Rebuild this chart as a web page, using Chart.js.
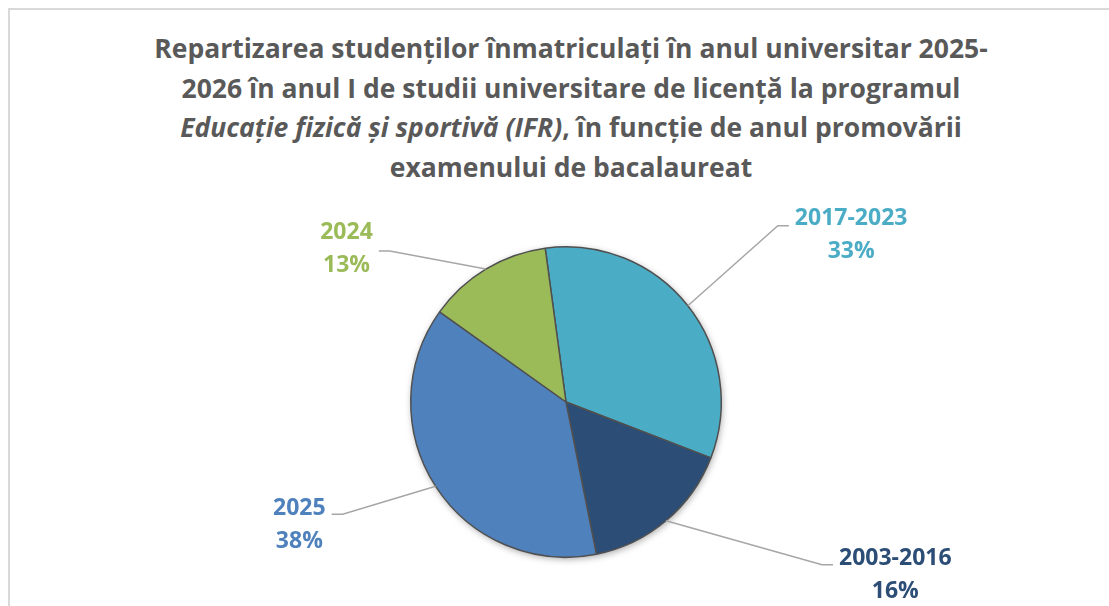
<!DOCTYPE html>
<html>
<head>
<meta charset="utf-8">
<script src="https://cdn.jsdelivr.net/npm/chart.js@4"></script>
<style>
  html, body { margin: 0; padding: 0; background: #fff; }
  #wrap { position: relative; width: 1109px; height: 606px; overflow: hidden; }
  #frame { position: absolute; left: 8px; top: 8px; width: 1200px; height: 700px; border: 2px solid #d9d9d9; box-sizing: border-box; }
  #title {
    position: absolute; left: 0; top: 29px; width: 1142px; text-align: center;
    font-family: "Open Sans", sans-serif; font-weight: bold; font-size: 26.5px; line-height: 39.5px; color: #595959;
  }
  #title i { font-style: italic; }
  canvas { position: absolute; left: 0; top: 0; }
</style>
</head>
<body>
<div id="wrap">
  <div id="frame"></div>
  <div id="title">Repartizarea studenților înmatriculați în anul universitar 2025-<br>2026 în anul I de studii universitare de licență la programul<br><i>Educație fizică și sportivă (IFR)</i>, în funcție de anul promovării<br>examenului de bacalaureat</div>
  <canvas id="pieChart" width="1109" height="606"></canvas>
</div>
<script>
  // data
  var categories = ["2017-2023", "2003-2016", "2025", "2024"];
  var percents = [33, 16, 38, 13];
  var sliceColors = ["#4BACC6", "#2C4D75", "#4F81BD", "#9BBB59"];

  // where the leader line bends, relative to the slice edge point
  var leaderBends = [[90, -80], [156, 44], [-93, 28], [-96, -18]];

  // soft shadow under the pie
  var pieShadow = {
    id: "pieShadow",
    beforeDatasetsDraw: function (chart) {
      var arc = chart.getDatasetMeta(0).data[0];
      var ctx = chart.ctx;
      ctx.save();
      ctx.shadowColor = "rgba(0,0,0,0.35)";
      ctx.shadowBlur = 7;
      ctx.shadowOffsetX = 1;
      ctx.shadowOffsetY = 2;
      ctx.fillStyle = "#fff";
      ctx.beginPath();
      ctx.arc(arc.x, arc.y, arc.outerRadius, 0, Math.PI * 2);
      ctx.fill();
      ctx.restore();
    },
  };

  // outside labels with leader lines
  var outsideLabels = {
    id: "outsideLabels",
    afterDatasetsDraw: function (chart) {
      var ctx = chart.ctx;
      var meta = chart.getDatasetMeta(0);
      meta.data.forEach(function (arc, i) {
        var mid = (arc.startAngle + arc.endAngle) / 2;
        var sx = arc.x + Math.cos(mid) * arc.outerRadius;
        var sy = arc.y + Math.sin(mid) * arc.outerRadius;
        var bx = sx + leaderBends[i][0];
        var by = sy + leaderBends[i][1];
        var dir = leaderBends[i][0] > 0 ? 1 : -1;
        var ex = bx + dir * 11;

        ctx.save();
        ctx.strokeStyle = "#a6a6a6";
        ctx.lineWidth = 1.5;
        ctx.beginPath();
        ctx.moveTo(sx, sy);
        ctx.lineTo(bx, by);
        ctx.lineTo(ex, by);
        ctx.stroke();

        ctx.font = "bold 23px 'Open Sans'";
        ctx.fillStyle = sliceColors[i];
        ctx.textAlign = "center";
        ctx.textBaseline = "middle";
        var name = chart.data.labels[i];
        var pct = percents[i] + "%";
        var w = ctx.measureText(name).width;
        var cx = dir > 0 ? ex + 6 + w / 2 : ex - 6 - w / 2;
        var ty = by - 6;
        if (dir < 0 && by < arc.y) ty = by - 19;
        if (dir > 0 && by < arc.y) ty = by - 7;
        ctx.fillText(name, cx, ty);
        ctx.fillText(pct, cx, ty + 33);
        ctx.restore();
      });
    },
  };

  var ctx = document.getElementById("pieChart").getContext("2d");

  var myPie = new Chart(ctx, {
    type: "pie",
    data: {
      labels: categories,
      datasets: [
        {
          data: percents,
          backgroundColor: sliceColors,
          borderColor: "#505050",
          borderWidth: 1.5,
        },
      ],
    },
    options: {
      responsive: false,
      animation: false,
      rotation: -7.7,
      layout: {
        padding: { top: 246, bottom: 48, left: 410, right: 387 },
      },
      plugins: {
        legend: { display: false },
        tooltip: { enabled: false },
      },
    },
    plugins: [pieShadow, outsideLabels],
  });
</script>
</body>
</html>
